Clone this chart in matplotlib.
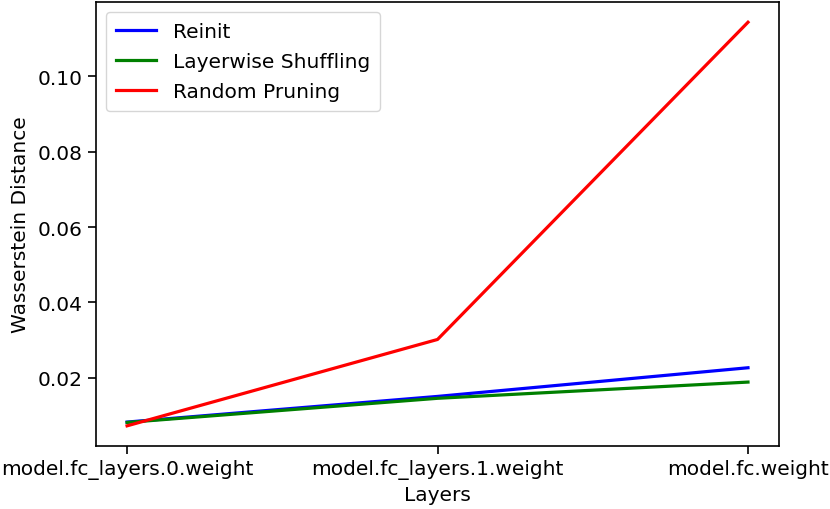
import matplotlib
matplotlib.use("Agg")
import matplotlib.pyplot as plt

# layers on the x axis
layers = ["model.fc_layers.0.weight", "model.fc_layers.1.weight", "model.fc.weight"]

# wasserstein distance per method
reinit = [0.0083, 0.0151, 0.0227]
shuffling = [0.0082, 0.0146, 0.0189]
pruning = [0.0073, 0.0302, 0.1143]

fs = 14.5
fig, ax = plt.subplots(figsize=(8.3, 5.1), dpi=100)
fig.subplots_adjust(left=0.1157, right=0.9386, top=0.994, bottom=0.1235)

ax.plot(layers, reinit, color="blue", lw=2.3, label="Reinit")
ax.plot(layers, shuffling, color="green", lw=2.3, label="Layerwise Shuffling")
ax.plot(layers, pruning, color="red", lw=2.3, label="Random Pruning")

ax.set_xlabel("Layers", fontsize=fs)
ax.set_ylabel("Wasserstein Distance", fontsize=fs, labelpad=6)
ax.set_yticks([0.02, 0.04, 0.06, 0.08, 0.10])
ax.tick_params(labelsize=fs, length=6, width=1.2)
for s in ax.spines.values():
    s.set_linewidth(1.2)
ax.legend(loc="upper left", fontsize=fs, borderpad=0.5, labelspacing=0.55)

fig.savefig("out.png")
